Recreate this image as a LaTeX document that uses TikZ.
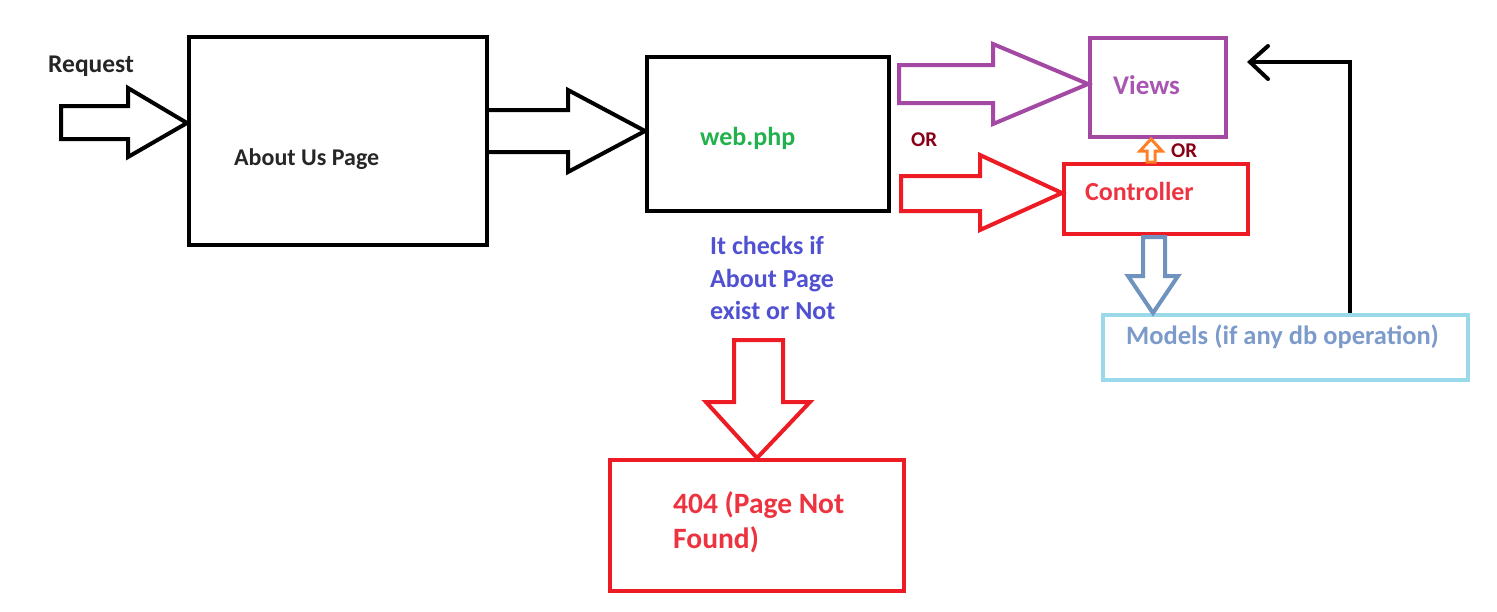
\documentclass[tikz,border=0pt]{standalone}
\usepackage{fontspec}
\setmainfont{Carlito}
\definecolor{cpurple}{HTML}{A349A4}
\definecolor{cred}{HTML}{ED1C24}
\definecolor{corange}{HTML}{FF7F27}
\definecolor{clblue}{HTML}{99D9EA}
\definecolor{csteel}{HTML}{7092BE}
\definecolor{tgreen}{HTML}{22B14C}
\definecolor{tdred}{HTML}{880015}
\definecolor{tblue}{HTML}{5050D2}
\definecolor{tpurple}{HTML}{A856B2}
\definecolor{tred}{HTML}{EE3340}
\definecolor{tsteel}{HTML}{7C9BCB}
\begin{document}
\begin{tikzpicture}[x=1pt,y=-1pt,
  box/.style={draw,line width=4pt,rectangle,inner sep=0pt},
  lbl/.style={font=\fontsize{26}{30}\selectfont\bfseries,anchor=base west,inner sep=0pt},
  blk/.style={line width=4pt,line join=miter}]
\useasboundingbox (0,0) rectangle (1497,611);

% boxes
\node[box,minimum width=298pt,minimum height=208pt] (about) at (338,141) {};
\node[box,minimum width=242pt,minimum height=154pt] (web) at (768,134) {};
\node[box,draw=cpurple,minimum width=136pt,minimum height=99pt] (views) at (1158,87.5) {};
\node[box,draw=cred,minimum width=184pt,minimum height=70pt] (ctrl) at (1156,199) {};
\node[box,draw=clblue,minimum width=365pt,minimum height=65pt] (models) at (1285.5,347.5) {};
\node[box,draw=cred,minimum width=294pt,minimum height=131pt] (nf) at (757,525.5) {};

% labels
\node[lbl,text=black!85,font=\fontsize{25.5}{30}\selectfont\bfseries] (req) at (48,72) {Request};
\node[lbl,text=black!85,font=\fontsize{24}{30}\selectfont\bfseries] (aboutt) at (234,165) {About Us Page};
\node[lbl,text=tgreen] (webt) at (700,145) {web.php};
\node[lbl,text=tdred,font=\fontsize{21}{30}\selectfont\bfseries] (or1) at (911,146) {OR};
\node[lbl,text=tpurple,font=\fontsize{27}{30}\selectfont\bfseries] (viewst) at (1113,94) {Views};
\node[lbl,text=tdred,font=\fontsize{21}{30}\selectfont\bfseries] (or2) at (1171,157) {OR};
\node[lbl,text=tred] (ctrlt) at (1085,200.5) {Controller};
\node[lbl,text=tsteel,font=\fontsize{26.5}{30}\selectfont\bfseries] (modelst) at (1126,344) {Models (if any db operation)};
\node[lbl,text=tblue] (check1) at (710,254) {It checks if};
\node[lbl,text=tblue] (check2) at (710,287) {About Page};
\node[lbl,text=tblue] (check3) at (710,319) {exist or Not};
\node[lbl,text=tred,font=\fontsize{29.5}{30}\selectfont\bfseries] (nft1) at (673,513) {404 (Page Not};
\node[lbl,text=tred,font=\fontsize{29.5}{30}\selectfont\bfseries] (nft2) at (673,548) {Found)};

% block arrows
\draw[blk] (61,106) -- (128,106) -- (128,88) -- (about.west |- 0,123) -- (128,157) -- (128,139) -- (61,139) -- cycle;
\draw[blk] (about.east |- 0,110) -- (568,110) -- (568,90) -- (web.west |- 0,131) -- (568,172) -- (568,152) -- (about.east |- 0,152);
\draw[blk,cpurple] (899,65) -- (993,65) -- (993,44) -- (views.west |- 0,84) -- (993,124) -- (993,103) -- (899,103) -- cycle;
\draw[blk,cred] (901,176) -- (980,176) -- (980,155) -- (ctrl.west |- 0,193) -- (980,230) -- (980,211) -- (901,211) -- cycle;
\draw[blk,cred] (734,340) -- (783,340) -- (783,402) -- (810,402) -- (nf.north) -- (706,402) -- (734,402) -- cycle;
\draw[blk,csteel] (1143,237) -- (1165,237) -- (1165,276) -- (1178,276) -- (models.north -| 1153,0) -- (1128,276) -- (1143,276) -- cycle;
\draw[line width=3pt,corange] (1147,162) -- (1147,151) -- (1140,151) -- (views.south -| 1151,0) -- (1162,151) -- (1155,151) -- (1155,162) -- cycle;

% return path from models back to views
\coordinate (rt) at (1350,62);
\coordinate (tip) at (1250,62);
\draw[line width=4pt] (models.north -| rt) -- (rt) -- (tip);
\draw[line width=4pt,line cap=round] (1268,46) -- (tip) -- (1268,79);
\end{tikzpicture}
\end{document}
